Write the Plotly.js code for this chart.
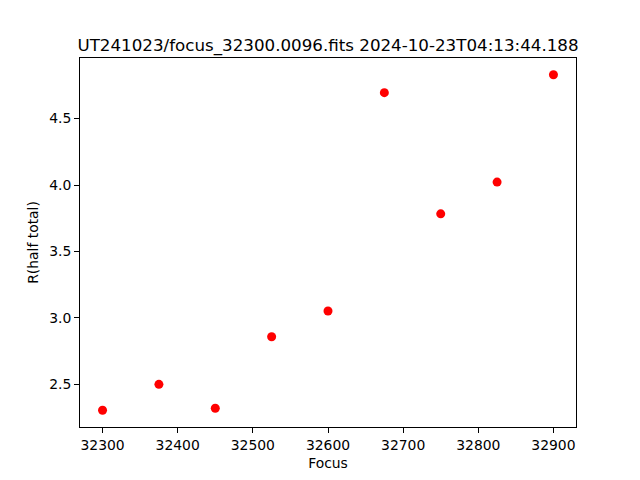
<!DOCTYPE html>
<html>
<head>
<meta charset="utf-8">
<script src="https://cdn.plot.ly/plotly-3.0.1.min.js"></script>
<style>html,body{margin:0;padding:0;background:#fff;}#chart{width:640px;height:480px;}</style>
</head>
<body>
<div id="chart"></div>
<script>
const focus = [32300, 32375, 32450, 32525, 32600, 32675, 32750, 32825, 32900];
const rHalfTotal = [2.305, 2.50, 2.32, 2.858, 3.052, 4.695, 3.783, 4.022, 4.83];
const titleText = "UT241023/focus_32300.0096.fits 2024-10-23T04:13:44.188";
const xLabel = "Focus";
const yLabel = "R(half total)";

const font = "DejaVu Sans, sans-serif";
const trace = {
  x: focus, y: rHalfTotal, type: 'scatter', mode: 'markers',
  marker: {color: '#ff0000', size: 9}
};
const axisCommon = {
  showline: true, mirror: true, linecolor: '#000', linewidth: 1,
  ticks: 'outside', ticklen: 5, tickwidth: 1, tickcolor: '#000',
  showgrid: false, zeroline: false,
  tickfont: {family: font, size: 13.9, color: '#000'}
};
const layout = {
  width: 640, height: 480,
  margin: {l: 80, r: 64, t: 57.6, b: 52.8, pad: 0},
  paper_bgcolor: '#fff', plot_bgcolor: '#fff',
  showlegend: false,
  title: {text: titleText, font: {family: font, size: 16.7, color: '#000'},
          xref: 'paper', x: 0.5, xanchor: 'center', yref: 'paper', y: 1, yanchor: 'bottom', pad: {b: 7}},
  xaxis: Object.assign({}, axisCommon, {
    range: [32270, 32930], tickvals: [32300,32400,32500,32600,32700,32800,32900], tickformat: 'd',
    title: {text: xLabel, font: {family: font, size: 13.9, color: '#000'}, standoff: 6}
  }),
  yaxis: Object.assign({}, axisCommon, {
    range: [2.179, 4.956], tickvals: [2.5,3.0,3.5,4.0,4.5], tickformat: '.1f',
    title: {text: yLabel, font: {family: font, size: 13.9, color: '#000'}, standoff: 7}
  })
};
Plotly.newPlot('chart', [trace], layout, {staticPlot: true, displayModeBar: false});
</script>
</body>
</html>
